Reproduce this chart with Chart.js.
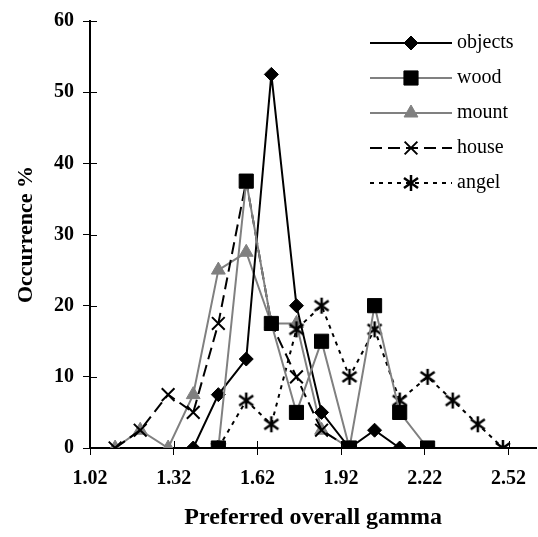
<!DOCTYPE html>
<html>
<head>
<meta charset="utf-8">
<script src="https://cdn.jsdelivr.net/npm/chart.js@4.4.0/dist/chart.umd.min.js"></script>
<style>
  html, body { margin: 0; padding: 0; background: #fff; }
</style>
</head>
<body>
<canvas id="myChart" width="538" height="537"></canvas>
<script>
// valeurs
const gamma  = [1.11, 1.20, 1.30, 1.39, 1.48, 1.58, 1.67, 1.76, 1.85, 1.95, 2.04, 2.13, 2.23, 2.32, 2.41, 2.50];
const objects = [null, null, null, 0, 7.5, 12.5, 52.5, 20, 5, 0, 2.5, 0, null, null, null, null];
const wood    = [null, null, null, null, 0, 37.5, 17.5, 5, 15, 0, 20, 5, 0, null, null, null];
const mount   = [0, 2.5, 0, 7.5, 25, 27.5, 17.5, 17.5, 2.5, 0, null, null, null, null, null, null];
const house   = [0, 2.5, 7.5, 5, 17.5, 37.5, 17.5, 10, 2.5, 0, null, null, null, null, null, null];
const angel   = [null, null, null, null, 0, 6.67, 3.33, 16.67, 20, 10, 16.67, 6.67, 10, 6.67, 3.33, 0];
const xTicks = [1.02, 1.32, 1.62, 1.92, 2.22, 2.52];
const yTicks = [0, 10, 20, 30, 40, 50, 60];

const FONT = "'Liberation Serif', 'Times New Roman', serif";
const GREY = '#808080';

function points(values) {
  const out = [];
  values.forEach(function(v, i) {
    if (v !== null) out.push({ x: gamma[i], y: v });
  });
  return out;
}

// asterisque (trait vertical + croix)
function makeAsterisk() {
  const c = document.createElement('canvas');
  c.width = 18; c.height = 18;
  const g = c.getContext('2d');
  g.strokeStyle = '#000';
  g.lineWidth = 2.5;
  g.beginPath();
  g.moveTo(9, 1); g.lineTo(9, 17);
  g.moveTo(2, 4); g.lineTo(16, 14);
  g.moveTo(2, 14); g.lineTo(16, 4);
  g.stroke();
  return c;
}
const asterisk = makeAsterisk();

// petits traits des graduations côté intérieur + légende dessinée à la main
const extras = {
  id: 'extras',
  afterDraw(chart) {
    const ctx = chart.ctx;
    const xs = chart.scales.x, ys = chart.scales.y;
    const area = chart.chartArea;
    ctx.save();
    ctx.strokeStyle = '#000';
    ctx.lineWidth = 1;
    ctx.beginPath();
    xTicks.forEach(function(v) {
      const px = Math.round(xs.getPixelForValue(v)) + 0.5;
      ctx.moveTo(px, area.bottom); ctx.lineTo(px, area.bottom - 7);
    });
    yTicks.forEach(function(v) {
      const py = Math.round(ys.getPixelForValue(v)) + 0.5;
      ctx.moveTo(area.left, py); ctx.lineTo(area.left + 7, py);
    });
    ctx.stroke();

    // légende
    const x0 = 370, x1 = 452, xm = 411, y0 = 43, step = 35;
    chart.data.datasets.forEach(function(ds, i) {
      const y = y0 + i * step;
      ctx.save();
      ctx.strokeStyle = ds.borderColor;
      ctx.lineWidth = ds.borderWidth;
      ctx.setLineDash(ds.borderDash || []);
      ctx.beginPath();
      ctx.moveTo(x0, y); ctx.lineTo(x1, y);
      ctx.stroke();
      ctx.restore();
      ctx.save();
      ctx.fillStyle = ds.pointBackgroundColor;
      ctx.strokeStyle = ds.pointBorderColor;
      ctx.lineWidth = ds.pointBorderWidth;
      Chart.helpers.drawPoint(ctx, { pointStyle: ds.pointStyle, radius: ds.pointRadius, rotation: 0, borderWidth: ds.pointBorderWidth }, xm, y);
      ctx.restore();
      ctx.fillStyle = '#000';
      ctx.font = '20px ' + FONT;
      ctx.textBaseline = 'middle';
      ctx.textAlign = 'left';
      ctx.fillText(ds.label, 457, y);
    });
    ctx.restore();
  }
};

const ctx = document.getElementById('myChart').getContext('2d');
const myChart = new Chart(ctx, {
  type: 'line',
  data: {
    datasets: [
      { label: 'objects', data: points(objects), order: 2,
        borderColor: '#000', borderWidth: 2,
        pointStyle: 'rectRot', pointRadius: 7,
        pointBackgroundColor: '#000', pointBorderColor: '#000', pointBorderWidth: 1 },
      { label: 'wood', data: points(wood), order: 1,
        borderColor: GREY, borderWidth: 2,
        pointStyle: 'rect', pointRadius: 10,
        pointBackgroundColor: '#000', pointBorderColor: '#000', pointBorderWidth: 1 },
      { label: 'mount', data: points(mount), order: 5,
        borderColor: GREY, borderWidth: 2,
        pointStyle: 'triangle', pointRadius: 8,
        pointBackgroundColor: GREY, pointBorderColor: GREY, pointBorderWidth: 1 },
      { label: 'house', data: points(house), order: 4,
        borderColor: '#000', borderWidth: 2, borderDash: [12, 6],
        pointStyle: 'crossRot', pointRadius: 9,
        pointBackgroundColor: '#000', pointBorderColor: '#000', pointBorderWidth: 2 },
      { label: 'angel', data: points(angel), order: 3,
        borderColor: '#000', borderWidth: 2, borderDash: [4, 5],
        pointStyle: asterisk, pointRadius: 9,
        pointBackgroundColor: '#000', pointBorderColor: '#000', pointBorderWidth: 2 }
    ]
  },
  options: {
    responsive: false,
    devicePixelRatio: 1,
    animation: false,
    layout: { padding: { top: 15, right: 0, bottom: 0, left: 0 }, autoPadding: false },
    plugins: { legend: { display: false }, tooltip: { enabled: false } },
    scales: {
      x: {
        type: 'linear',
        min: 1.02,
        max: 2.62,
        afterBuildTicks: function(scale) {
          scale.ticks = xTicks.map(function(v) { return { value: v }; });
        },
        afterFit: function(scale) { scale.height = 89; },
        ticks: {
          color: '#000',
          padding: 12,
          font: { family: FONT, size: 20, weight: 'bold' },
          callback: function(v) { return Number(v).toFixed(2); }
        },
        grid: { drawOnChartArea: false, drawTicks: true, tickLength: 7, color: '#000', lineWidth: 1 },
        border: { color: '#000', width: 2 },
        title: {
          display: true, text: 'Preferred overall gamma', color: '#000',
          font: { family: FONT, size: 24, weight: 'bold' },
          padding: { top: 0, bottom: 5 }
        }
      },
      y: {
        min: 0,
        max: 60,
        afterBuildTicks: function(scale) {
          scale.ticks = yTicks.map(function(v) { return { value: v }; });
        },
        afterFit: function(scale) { scale.width = 90; },
        ticks: {
          color: '#000',
          padding: 9,
          font: { family: FONT, size: 20, weight: 'bold' }
        },
        grid: { drawOnChartArea: false, drawTicks: true, tickLength: 7, color: '#000', lineWidth: 1 },
        border: { color: '#000', width: 2 },
        title: {
          display: true, text: 'Occurrence %', color: '#000',
          font: { family: FONT, size: 22, weight: 'bold' },
          padding: { top: 13, bottom: 0 }
        }
      }
    }
  },
  plugins: [extras]
});
</script>
</body>
</html>
